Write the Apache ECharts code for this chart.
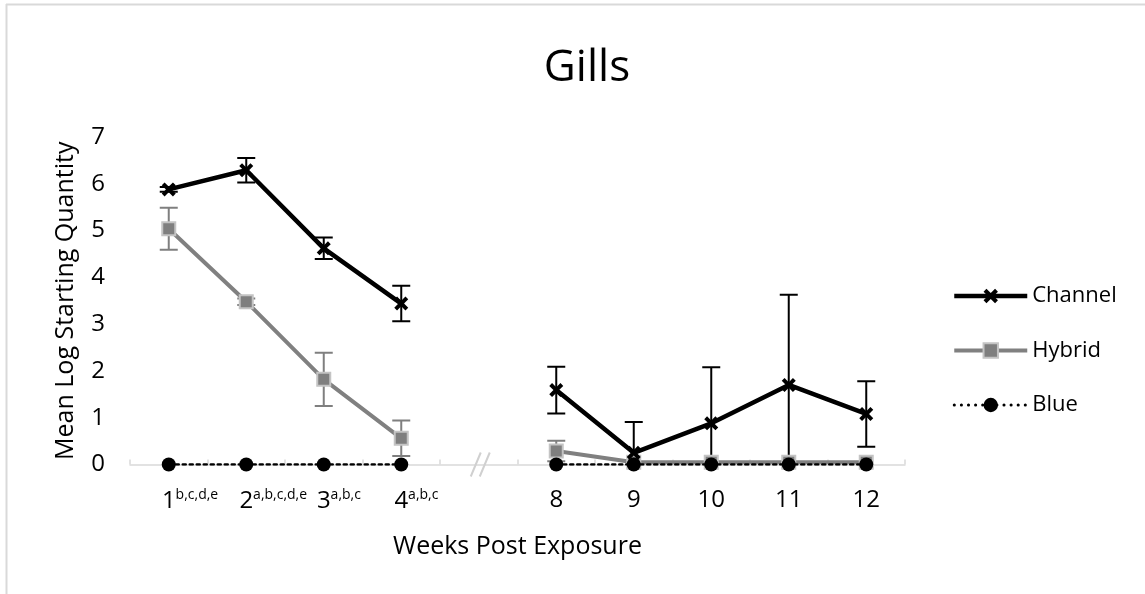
<!DOCTYPE html>
<html><head><meta charset="utf-8">
<script src="https://cdn.jsdelivr.net/npm/echarts@6/dist/echarts.min.js"></script>
<style>html,body{margin:0;padding:0;background:#fff}#c{width:1145px;height:594px}</style>
</head><body><div id="c"></div>
<script>
// ---- data ----
const weeks = ['1', '2', '3', '4', '', '8', '9', '10', '11', '12'];
const weekSup = ['b,c,d,e', 'a,b,c,d,e', 'a,b,c', 'a,b,c', '', '', '', '', '', ''];
const channel = [5.88, 6.29, 4.62, 3.44, null, 1.59, 0.25, 0.88, 1.70, 1.08];
const channelErr = [0.05, 0.26, 0.23, 0.38, null, 0.50, 0.66, 1.20, 1.93, 0.70];
const hybrid = [5.04, 3.48, 1.82, 0.56, null, 0.29, 0.05, 0.05, 0.05, 0.05];
const hybridErr = [0.45, 0.07, 0.57, 0.38, null, 0.22, 0, 0, 0, 0];
const blue = [0, 0, 0, 0, null, 0, 0, 0, 0, 0];
const yMin = 0, yMax = 7, yStep = 1;

const FONT = '"Open Sans", "Noto Sans", sans-serif';
const chart = echarts.init(document.getElementById('c'), null, {renderer: 'canvas'});

function errData(vals, errs) {
  const out = [];
  vals.forEach((v, i) => {
    if (v != null && errs[i] != null && errs[i] > 0) out.push([i, v - errs[i], v + errs[i]]);
  });
  return out;
}
function errRender(color) {
  return function (params, api) {
    const x = api.value(0);
    const rawLo = api.value(1);
    const lo = Math.max(rawLo, yMin);
    const hi = api.value(2);
    const pLo = api.coord([x, lo]);
    const pHi = api.coord([x, hi]);
    const half = 9;
    const style = {stroke: color, lineWidth: 2, fill: null};
    const children = [
      {type: 'line', shape: {x1: pHi[0], y1: pHi[1], x2: pLo[0], y2: pLo[1]}, style: style},
      {type: 'line', shape: {x1: pHi[0] - half, y1: pHi[1], x2: pHi[0] + half, y2: pHi[1]}, style: style}
    ];
    if (rawLo >= yMin) {
      children.push({type: 'line', shape: {x1: pLo[0] - half, y1: pLo[1], x2: pLo[0] + half, y2: pLo[1]}, style: style});
    }
    return {type: 'group', children: children};
  };
}

const xSymbol = 'path://M0,2 L2,0 L5,3 L8,0 L10,2 L7,5 L10,8 L8,10 L5,7 L2,10 L0,8 L3,5 Z';

const option = {
  backgroundColor: '#fff',
  animation: false,
  textStyle: {fontFamily: FONT},
  title: {
    text: 'Gills', left: 582, top: 41, textAlign: 'center',
    textStyle: {fontFamily: FONT, fontSize: 44, fontWeight: 'normal', color: '#000'}
  },
  legend: {
    orient: 'vertical', left: 952, top: 285, padding: 0,
    itemWidth: 73, itemHeight: 18, itemGap: 32.5,
    textStyle: {fontFamily: FONT, fontSize: 22, color: '#000'},
    data: [
      {name: 'Channel', lineStyle: {width: 4.5, color: '#000'}},
      {name: 'Hybrid', lineStyle: {width: 4, color: '#808080'}},
      {name: 'Blue', lineStyle: {width: 3, color: '#000', type: [0.1, 7], cap: 'round'}}
    ]
  },
  grid: {left: 130, right: 240, top: 137, bottom: 129.5, containLabel: false},
  xAxis: {
    type: 'category', data: weeks, boundaryGap: true,
    name: 'Weeks Post Exposure', nameLocation: 'middle', nameGap: 70,
    nameTextStyle: {fontFamily: FONT, fontSize: 25, color: '#000'},
    axisLine: {lineStyle: {color: '#d9d9d9', width: 1.5}},
    axisTick: {show: true, inside: true, length: 5, lineStyle: {color: '#d9d9d9', width: 1.5}},
    axisLabel: {
      interval: 0, margin: 24,
      formatter: function (v, i) {
        const s = weekSup[i];
        if (!s) return '{n|' + v + '}';
        return '{p|' + s + '}{n|' + v + '}{s|' + s + '}';
      },
      rich: {
        n: {fontFamily: FONT, fontSize: 24, color: '#000'},
        s: {fontFamily: FONT, fontSize: 14, color: '#000', verticalAlign: 'top', padding: [0, 0, 12, 0]},
        p: {fontFamily: FONT, fontSize: 14, color: 'rgba(0,0,0,0)', verticalAlign: 'top', padding: [0, 0, 12, 0]}
      }
    }
  },
  yAxis: {
    type: 'value', min: yMin, max: yMax, interval: yStep,
    name: 'Mean Log Starting Quantity', nameLocation: 'middle', nameGap: 52,
    nameTextStyle: {fontFamily: FONT, fontSize: 25, color: '#000'},
    axisLine: {show: false}, axisTick: {show: false}, splitLine: {show: false},
    axisLabel: {fontFamily: FONT, fontSize: 24, color: '#000', margin: 25}
  },
  series: [
    {
      name: 'Channel', type: 'line', data: channel, z: 3,
      symbol: xSymbol, symbolSize: 14,
      lineStyle: {color: '#000', width: 4.5},
      itemStyle: {color: '#000'}
    },
    {
      name: 'Hybrid', type: 'line', data: hybrid, z: 2,
      symbol: 'rect', symbolSize: 13,
      lineStyle: {color: '#808080', width: 4},
      itemStyle: {color: '#7f7f7f', borderColor: '#c4c4c4', borderWidth: 2}
    },
    {
      name: 'Blue', type: 'line', data: blue, z: 4,
      symbol: 'circle', symbolSize: 14,
      lineStyle: {color: '#000', width: 2.5, type: [3, 4], cap: 'round'},
      itemStyle: {color: '#000'}
    },
    {
      name: 'ChannelErr', type: 'custom', z: 2, clip: true,
      renderItem: errRender('#000'),
      encode: {x: 0, y: [1, 2]},
      data: errData(channel, channelErr)
    },
    {
      name: 'HybridErr', type: 'custom', z: 1, clip: true,
      renderItem: errRender('#7f7f7f'),
      encode: {x: 0, y: [1, 2]},
      data: errData(hybrid, hybridErr)
    }
  ]
};
chart.setOption(option);

// decorations: axis break marks and chart frame
const gapIndex = weeks.indexOf('');
const p = chart.convertToPixel({gridIndex: 0}, [gapIndex, yMin]);
const brk = {stroke: '#d0d0d0', lineWidth: 2};
chart.setOption({
  graphic: [
    {type: 'line', shape: {x1: p[0] - 8, y1: p[1] + 12, x2: p[0] + 2, y2: p[1] - 12}, style: brk, z: 10},
    {type: 'line', shape: {x1: p[0] + 1, y1: p[1] + 12, x2: p[0] + 11, y2: p[1] - 12}, style: brk, z: 10},
    {type: 'line', shape: {x1: 6, y1: 4.5, x2: 1145, y2: 4.5}, style: {stroke: '#d9d9d9', lineWidth: 2}},
    {type: 'line', shape: {x1: 6.5, y1: 4, x2: 6.5, y2: 594}, style: {stroke: '#d9d9d9', lineWidth: 2}}
  ]
});
</script>
</body></html>
